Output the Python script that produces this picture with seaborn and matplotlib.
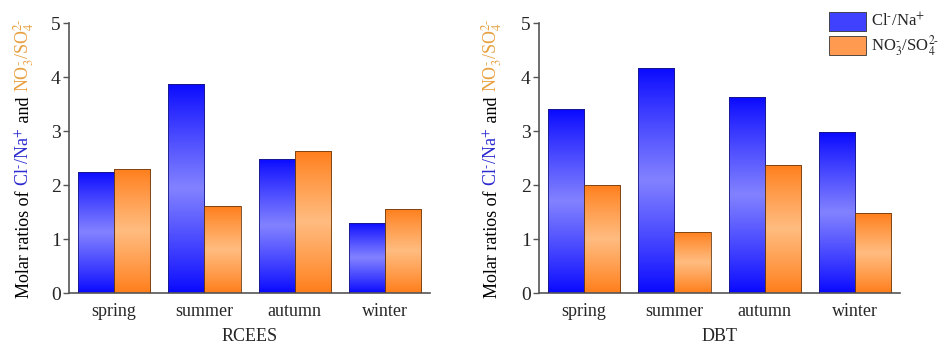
import numpy as np
import pandas as pd
import seaborn as sns
import matplotlib.pyplot as plt
from matplotlib.patches import Patch

# data
seasons = ['spring', 'summer', 'autumn', 'winter']
series = [r'Cl$^{\text{-}}$/Na$^{+}$', r'NO$_3^{\text{-}}$/SO$_4^{2\text{-}}$']
rcees_cl = [2.24, 3.88, 2.49, 1.30]
rcees_no3 = [2.30, 1.61, 2.64, 1.56]
dbt_cl = [3.40, 4.17, 3.63, 2.98]
dbt_no3 = [2.01, 1.14, 2.37, 1.48]

sns.set_theme(style='white')
plt.rcParams['font.family'] = ['Liberation Serif', 'DejaVu Serif']
plt.rcParams['mathtext.fontset'] = 'stix'

blue_dark, blue_light = np.array([8, 8, 255]), np.array([130, 130, 255])
orng_dark, orng_light = np.array([255, 125, 25]), np.array([255, 188, 128])
palette = {series[0]: '#4040ff', series[1]: '#ff9a50'}


def long_df(cl, no3):
    return pd.DataFrame({
        'season': seasons * 2,
        'kind': [series[0]] * 4 + [series[1]] * 4,
        'value': cl + no3,
    })


def gradient(dark, light, n=200):
    t = np.linspace(0, 1, n)
    w = np.clip(1 - np.abs(t - 0.5) / 0.5, 0, 1) ** 0.9
    cols = dark[None, :] * (1 - w[:, None]) + light[None, :] * w[:, None]
    return (cols / 255.0)[:, None, :]


fig = plt.figure(figsize=(9.51, 3.49), dpi=100)
axes = [fig.add_axes([0.0726, 0.160, 0.3796, 0.774]),
        fig.add_axes([0.5668, 0.160, 0.3796, 0.774])]
names = ['RCEES', 'DBT']
data = [long_df(rcees_cl, rcees_no3), long_df(dbt_cl, dbt_no3)]

for ax, df, name in zip(axes, data, names):
    sns.barplot(data=df, x='season', y='value', hue='kind', hue_order=series,
                order=seasons, palette=palette, width=0.8, legend=False, ax=ax)
    for i, p in enumerate(list(ax.patches)):
        x, y = p.get_x(), p.get_y()
        w, h = p.get_width(), p.get_height()
        if h <= 0:
            continue
        is_blue = i < len(seasons)
        g = gradient(blue_dark, blue_light) if is_blue else gradient(orng_dark, orng_light)
        im = ax.imshow(g, extent=[x, x + w, y, y + h], aspect='auto',
                       origin='upper', zorder=2, interpolation='bilinear')
        im.set_clip_path(p)
        p.set_facecolor('none')
        p.set_edgecolor('#1a1a80' if is_blue else '#6b3a10')
        p.set_linewidth(0.6)
        p.set_zorder(3)
    ax.set_xlim(-0.5, 3.5)
    ax.set_ylim(0, 5)
    ax.set_yticks([0, 1, 2, 3, 4, 5])
    ax.set_xlabel(name, fontsize=13, labelpad=6)
    ax.set_ylabel('')
    ax.tick_params(axis='y', direction='out', length=4, width=1, color='#555555',
                   labelsize=14, left=True, pad=2)
    ax.tick_params(axis='x', bottom=False, labelsize=13, pad=1)
    for s in ['top', 'right']:
        ax.spines[s].set_visible(False)
    for s in ['left', 'bottom']:
        ax.spines[s].set_color('#555555')
        ax.spines[s].set_linewidth(1.2)

# multi-coloured rotated y labels
pieces = [('Molar ratios of ', 'black'), (series[0], '#2a2ad0'),
          (' and ', 'black'), (series[1], '#e8a040')]
fig.canvas.draw()
renderer = fig.canvas.get_renderer()
for ax, xb in zip(axes, [29, 497]):
    texts = []
    for s, c in pieces:
        t = fig.text(0, 0, s, color=c, fontsize=13, rotation=90,
                     rotation_mode='anchor', ha='left', va='baseline',
                     transform=None)
        texts.append(t)
    lengths = [t.get_window_extent(renderer).height for t in texts]
    bb = ax.get_window_extent(renderer)
    yc = (bb.y0 + bb.y1) / 2
    y = yc - sum(lengths) / 2
    for t, L in zip(texts, lengths):
        t.set_position((xb, y))
        y += L

handles = [Patch(facecolor=palette[s], edgecolor='#333333', linewidth=0.6, label=s)
           for s in series]
fig.legend(handles=handles, loc='upper right', bbox_to_anchor=(1.0, 1.0),
           frameon=False, fontsize=12, handlelength=2.2, handleheight=1.4,
           handletextpad=0.3, labelspacing=0.15, borderaxespad=0.3)

fig.savefig('out.png', dpi=100)
